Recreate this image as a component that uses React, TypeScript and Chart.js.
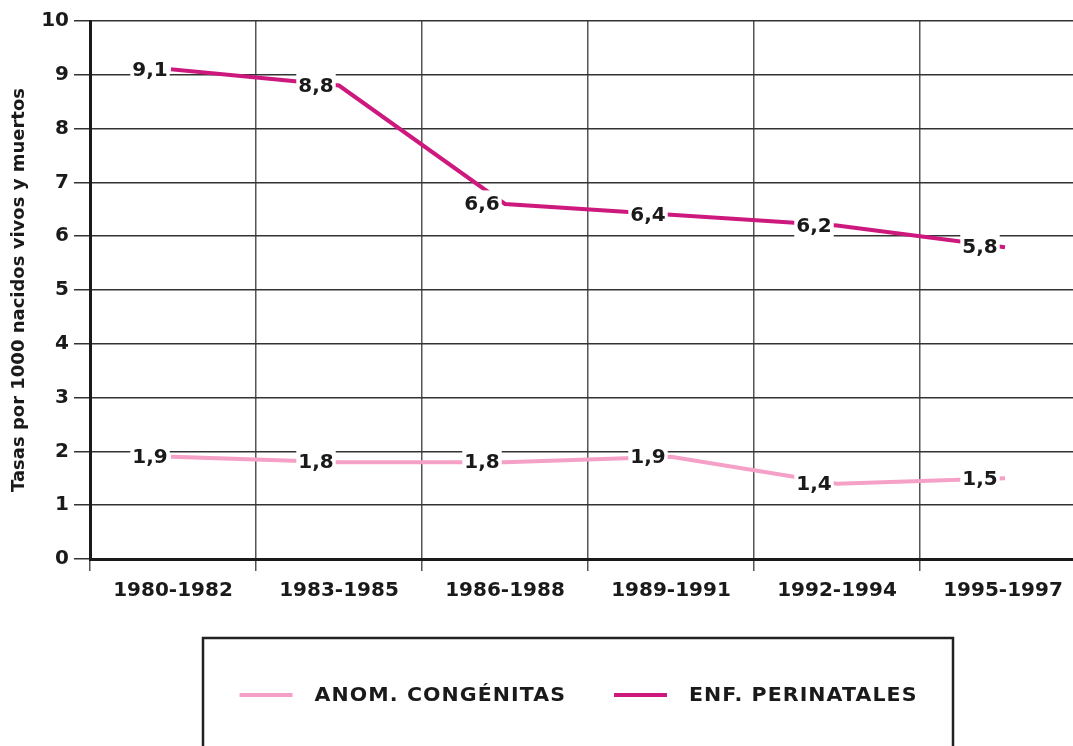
import React, { useEffect, useRef } from "react";
import { Chart, registerables } from "chart.js";

Chart.register(...registerables);

const categories: string[] = ["1980-1982", "1983-1985", "1986-1988", "1989-1991", "1992-1994", "1995-1997"];
const anomCongenitas: number[] = [1.9, 1.8, 1.8, 1.9, 1.4, 1.5];
const enfPerinatales: number[] = [9.1, 8.8, 6.6, 6.4, 6.2, 5.8];
const seriesLabels: string[] = ["ANOM. CONGÉNITAS", "ENF. PERINATALES"];
const seriesColors: string[] = ["#f5a0c6", "#cd197d"];
const yTitle = "Tasas por 1000 nacidos vivos y muertos";

const FONT = "'DejaVu Sans', sans-serif";
const TEXT = "#1a1a1a";

const valueLabels = {
  id: "valueLabels",
  afterDatasetsDraw(chart: any) {
    const ctx = chart.ctx;
    ctx.save();
    ctx.font = `bold 20px ${FONT}`;
    ctx.textAlign = "center";
    ctx.textBaseline = "middle";
    chart.data.datasets.forEach((ds: any, i: number) => {
      const meta = chart.getDatasetMeta(i);
      meta.data.forEach((el: any, j: number) => {
        const txt = Number(ds.data[j]).toFixed(1).replace(".", ",");
        const w = ctx.measureText(txt).width + 4;
        const cx = el.x - 23;
        const cy = el.y;
        ctx.fillStyle = "#ffffff";
        ctx.fillRect(cx - w / 2, cy - 13.5, w, 27);
        ctx.fillStyle = TEXT;
        ctx.fillText(txt, cx, cy + 1);
      });
    });
    ctx.restore();
  },
};

const boxLegend = {
  id: "boxLegend",
  afterDraw(chart: any) {
    const ctx = chart.ctx;
    ctx.save();
    const left = 203, right = 953, top = 638;
    ctx.strokeStyle = "#222222";
    ctx.lineWidth = 2.5;
    ctx.strokeRect(left, top, right - left, 200);
    ctx.font = `bold 19px ${FONT}`;
    (ctx as any).letterSpacing = "1px";
    ctx.textBaseline = "middle";
    ctx.textAlign = "left";
    const sx = 1.08;
    const lineW = 53, gapText = 22, gapItem = 49;
    const items = chart.data.datasets.map((ds: any) => ({
      label: ds.label,
      color: ds.borderColor,
      w: (ctx.measureText(ds.label).width - 1) * sx,
    }));
    let total = 0;
    items.forEach((it: any, k: number) => {
      total += lineW + gapText + it.w + (k < items.length - 1 ? gapItem : 0);
    });
    let x = (left + right) / 2 - total / 2;
    const y = 695;
    items.forEach((it: any) => {
      ctx.strokeStyle = it.color;
      ctx.lineWidth = 4;
      ctx.beginPath();
      ctx.moveTo(x, y);
      ctx.lineTo(x + lineW, y);
      ctx.stroke();
      x += lineW + gapText;
      ctx.save();
      ctx.translate(x, y + 1);
      ctx.scale(sx, 1);
      ctx.fillStyle = TEXT;
      ctx.fillText(it.label, 0, 0);
      ctx.restore();
      x += it.w + gapItem;
    });
    ctx.restore();
  },
};

export default function App() {
  const ref = useRef<HTMLCanvasElement | null>(null);
  useEffect(() => {
    if (!ref.current) return;
    const chart = new Chart(ref.current, {
      type: "line",
      data: {
        labels: categories,
        datasets: [
          {
            label: seriesLabels[0],
            data: anomCongenitas,
            borderColor: seriesColors[0],
            backgroundColor: seriesColors[0],
            borderWidth: 4,
            pointRadius: 0,
            tension: 0,
            borderCapStyle: "square",
          },
          {
            label: seriesLabels[1],
            data: enfPerinatales,
            borderColor: seriesColors[1],
            backgroundColor: seriesColors[1],
            borderWidth: 4,
            pointRadius: 0,
            tension: 0,
            borderCapStyle: "square",
          },
        ],
      },
      options: {
        responsive: false,
        animation: false,
        devicePixelRatio: 1,
        layout: { padding: { top: 21, right: 4, left: 0, bottom: 0 } },
        plugins: {
          legend: { display: false },
          tooltip: { enabled: false },
        },
        scales: {
          x: {
            offset: true,
            grid: { offset: true, color: "#555555", lineWidth: 1.5, tickLength: 12, drawTicks: true },
            border: { color: "#1a1a1a", width: 3 },
            ticks: { color: TEXT, font: { family: FONT, size: 20, weight: "bold" }, padding: 8, maxRotation: 0, autoSkip: false },
            afterFit: (s: any) => { s.height = 187; },
          },
          y: {
            min: 0,
            max: 10,
            ticks: { stepSize: 1, color: TEXT, font: { family: FONT, size: 20, weight: "bold" }, padding: 5 },
            grid: { color: "#333333", lineWidth: 1.5, tickLength: 16 },
            border: { color: "#1a1a1a", width: 3 },
            title: {
              display: true,
              text: yTitle,
              color: TEXT,
              font: { family: FONT, size: 18, weight: "bold" },
              padding: { top: 9, bottom: 0 },
            },
            afterFit: (s: any) => { s.width = 90; },
          },
        },
      },
      plugins: [valueLabels, boxLegend],
    });
    return () => chart.destroy();
  }, []);
  return (
    <div style={{ position: "fixed", left: 0, top: 0, width: 1073, height: 746, overflow: "hidden", background: "#ffffff" }}>
      <canvas ref={ref} width={1090} height={746} style={{ display: "block" }} />
    </div>
  );
}
